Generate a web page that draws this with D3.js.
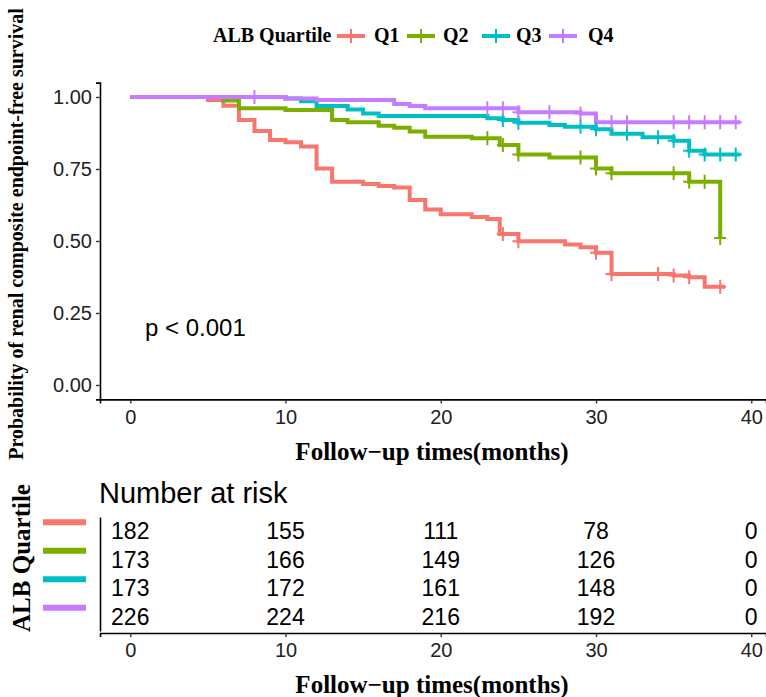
<!DOCTYPE html>
<html>
<head>
<meta charset="utf-8">
<script src="https://cdn.jsdelivr.net/npm/d3@7"></script>
<style>
body { margin: 0; background: #fff; }
svg { display: block; }
</style>
</head>
<body>
<div id="chart"></div>
<script>
var width = 766;
var height = 697;

// groups
var groups = ["Q1", "Q2", "Q3", "Q4"];
var colors = ["#F8766D", "#7CAE00", "#00BFC4", "#C77CFF"];

// step times (months) and survival after each step
var q1Time = [0, 5, 6, 7, 8, 9, 10, 11, 12, 13, 15, 16, 17, 18, 19, 20, 22, 23, 23.8, 25, 28, 29, 30, 31, 35, 36, 37];
var q1Surv = [1, 0.99, 0.97, 0.92, 0.882, 0.851, 0.843, 0.828, 0.752, 0.706, 0.698, 0.691, 0.686, 0.642, 0.609, 0.593, 0.583, 0.576, 0.524, 0.499, 0.488, 0.478, 0.459, 0.385, 0.38, 0.374, 0.341];
var q1Censor = [24, 25, 30, 31, 34, 35, 36, 38];
var q1End = 38.3;

var q2Time = [0, 6, 7, 10, 13, 14, 16, 17, 18, 19, 22, 23.8, 25, 27, 30, 31, 36, 38];
var q2Surv = [1, 0.988, 0.961, 0.955, 0.92, 0.912, 0.9, 0.893, 0.88, 0.862, 0.857, 0.833, 0.8, 0.79, 0.752, 0.735, 0.706, 0.51];
var q2Censor = [23, 24, 25, 29, 30, 31, 35, 36, 37, 38];
var q2End = 38;

var q3Time = [0, 10, 11, 12, 14, 15, 16, 23, 24, 25, 27, 28, 30, 31, 33, 35, 36, 37];
var q3Surv = [1, 0.995, 0.985, 0.969, 0.957, 0.943, 0.934, 0.926, 0.92, 0.911, 0.903, 0.897, 0.888, 0.872, 0.86, 0.848, 0.813, 0.8];
var q3Censor = [24, 25, 29, 30, 32, 34, 35, 36, 37, 38, 39];
var q3End = 39.3;

var q4Time = [0, 10, 12, 17, 18, 19, 25, 29, 30];
var q4Surv = [1, 0.995, 0.99, 0.976, 0.969, 0.961, 0.947, 0.943, 0.912];
var q4Censor = [8, 23, 24, 25, 27, 29, 31, 32, 35, 36, 37, 38, 39];
var q4End = 39.3;

// number at risk
var riskTimes = [0, 10, 20, 30, 40];
var q1Risk = [182, 155, 111, 78, 0];
var q2Risk = [173, 166, 149, 126, 0];
var q3Risk = [173, 172, 161, 148, 0];
var q4Risk = [226, 224, 216, 192, 0];

var xTicks = [0, 10, 20, 30, 40];
var yTicks = [0, 0.25, 0.5, 0.75, 1];

var series = [
	{ name: "Q1", time: q1Time, surv: q1Surv, censor: q1Censor, end: q1End, risk: q1Risk },
	{ name: "Q2", time: q2Time, surv: q2Surv, censor: q2Censor, end: q2End, risk: q2Risk },
	{ name: "Q3", time: q3Time, surv: q3Surv, censor: q3Censor, end: q3End, risk: q3Risk },
	{ name: "Q4", time: q4Time, surv: q4Surv, censor: q4Censor, end: q4End, risk: q4Risk }
];

var serif = "'Liberation Serif', 'Times New Roman', serif";
var sans = "'Liberation Sans', Arial, sans-serif";

var svg = d3.select("#chart").append("svg")
	.attr("width", width)
	.attr("height", height);

var xScale = d3.scaleLinear().domain([-1.95, 40.95]).range([100, 766]);
var yScale = d3.scaleLinear().domain([-0.05, 1.05]).range([399.4, 82.6]);

// main y axis
var yAxis = svg.append("g")
	.attr("transform", "translate(100,0)")
	.call(d3.axisLeft(yScale).tickValues(yTicks).tickFormat(d3.format(".2f")).tickSizeOuter(0).tickSize(4).tickPadding(4));

// main x axis
var xAxis = svg.append("g")
	.attr("transform", "translate(0,399.4)")
	.call(d3.axisBottom(xScale).tickValues(xTicks).tickSizeOuter(0).tickSize(4).tickPadding(6));

[yAxis, xAxis].forEach(function(ax) {
	ax.select(".domain").attr("stroke", "#000").attr("stroke-width", 1.6);
	ax.selectAll(".tick line").attr("stroke", "#333").attr("stroke-width", 1.4);
	ax.selectAll(".tick text")
		.attr("fill", "#222")
		.style("font-family", sans)
		.style("font-size", "20px");
});

// curves
var line = d3.line()
	.x(function(d) { return xScale(d[0]); })
	.y(function(d) { return yScale(d[1]); })
	.curve(d3.curveStepAfter);

function survAt(s, t) {
	var i = d3.bisectRight(s.time, t) - 1;
	return s.surv[Math.max(i, 0)];
}

var curves = svg.append("g");

series.forEach(function(s, k) {
	var pts = s.time.map(function(t, i) { return [t, s.surv[i]]; });
	pts.push([s.end, s.surv[s.surv.length - 1]]);

	curves.append("path")
		.attr("d", line(pts))
		.attr("fill", "none")
		.attr("stroke", colors[k])
		.attr("stroke-width", 4);
});

series.forEach(function(s, k) {
	var g = curves.append("g");
	s.censor.forEach(function(t) {
		var cx = xScale(t);
		var cy = yScale(survAt(s, t));
		g.append("path")
			.attr("d", "M" + (cx - 6) + "," + cy + "H" + (cx + 6) + "M" + cx + "," + (cy - 7) + "V" + (cy + 7))
			.attr("stroke", colors[k])
			.attr("stroke-width", 2);
	});
});

// p value
svg.append("text")
	.attr("x", xScale(0.95))
	.attr("y", 336)
	.style("font-family", sans)
	.style("font-size", "24px")
	.attr("fill", "#000")
	.text("p < 0.001");

// axis titles
svg.append("text")
	.attr("x", 432)
	.attr("y", 460)
	.attr("text-anchor", "middle")
	.style("font-family", serif)
	.style("font-weight", "bold")
	.style("font-size", "25px")
	.text("Follow\u2212up times(months)");

svg.append("text")
	.attr("transform", "translate(23,234) rotate(-90)")
	.attr("text-anchor", "middle")
	.style("font-family", serif)
	.style("font-weight", "bold")
	.style("font-size", "20px")
	.text("Probability of renal composite endpoint-free survival");

// legend
var legend = svg.append("g");
legend.append("text")
	.attr("x", 213)
	.attr("y", 42)
	.style("font-family", serif)
	.style("font-weight", "bold")
	.style("font-size", "20px")
	.text("ALB Quartile");

var keyX = [337, 407, 482, 549];
var labX = [374, 443, 516, 588];
groups.forEach(function(g, k) {
	var kx = keyX[k];
	legend.append("line")
		.attr("x1", kx).attr("x2", kx + 28)
		.attr("y1", 36).attr("y2", 36)
		.attr("stroke", colors[k])
		.attr("stroke-width", 4);
	legend.append("path")
		.attr("d", "M" + (kx + 8) + ",36H" + (kx + 20) + "M" + (kx + 14) + ",29V43")
		.attr("stroke", colors[k])
		.attr("stroke-width", 2);
	legend.append("text")
		.attr("x", labX[k])
		.attr("y", 42)
		.style("font-family", serif)
		.style("font-weight", "bold")
		.style("font-size", "20px")
		.text(g);
});

// risk table
svg.append("text")
	.attr("x", 99)
	.attr("y", 503)
	.style("font-family", sans)
	.style("font-size", "29px")
	.text("Number at risk");

var rowScale = d3.scaleBand().domain(groups).range([517, 631]);

var tAxisY = svg.append("g")
	.attr("transform", "translate(100,0)")
	.call(d3.axisLeft(rowScale).tickSize(0).tickFormat(""));
tAxisY.select(".domain").attr("stroke", "#000").attr("stroke-width", 1.6);

var tAxisX = svg.append("g")
	.attr("transform", "translate(0,633)")
	.call(d3.axisBottom(xScale).tickValues(xTicks).tickSizeOuter(0).tickSize(4).tickPadding(6));
tAxisX.select(".domain").attr("stroke", "#000").attr("stroke-width", 1.6);
tAxisX.selectAll(".tick line").attr("stroke", "#333").attr("stroke-width", 1.4);
tAxisX.selectAll(".tick text")
	.attr("fill", "#222")
	.style("font-family", sans)
	.style("font-size", "20px");

series.forEach(function(s, k) {
	var cy = rowScale(s.name) + rowScale.bandwidth() / 2;
	svg.append("rect")
		.attr("x", 43)
		.attr("y", cy - 12)
		.attr("width", 43)
		.attr("height", 6)
		.attr("fill", colors[k]);
	svg.selectAll(null)
		.data(s.risk)
		.enter()
		.append("text")
		.attr("x", function(d, i) { return xScale(riskTimes[i]); })
		.attr("y", cy + 8)
		.attr("text-anchor", "middle")
		.style("font-family", sans)
		.style("font-size", "23px")
		.text(function(d) { return d; });
});

svg.append("text")
	.attr("transform", "translate(30,558) rotate(-90)")
	.attr("text-anchor", "middle")
	.style("font-family", serif)
	.style("font-weight", "bold")
	.style("font-size", "25px")
	.text("ALB Quartile");

svg.append("text")
	.attr("x", 432)
	.attr("y", 693)
	.attr("text-anchor", "middle")
	.style("font-family", serif)
	.style("font-weight", "bold")
	.style("font-size", "25px")
	.text("Follow\u2212up times(months)");
</script>
</body>
</html>
